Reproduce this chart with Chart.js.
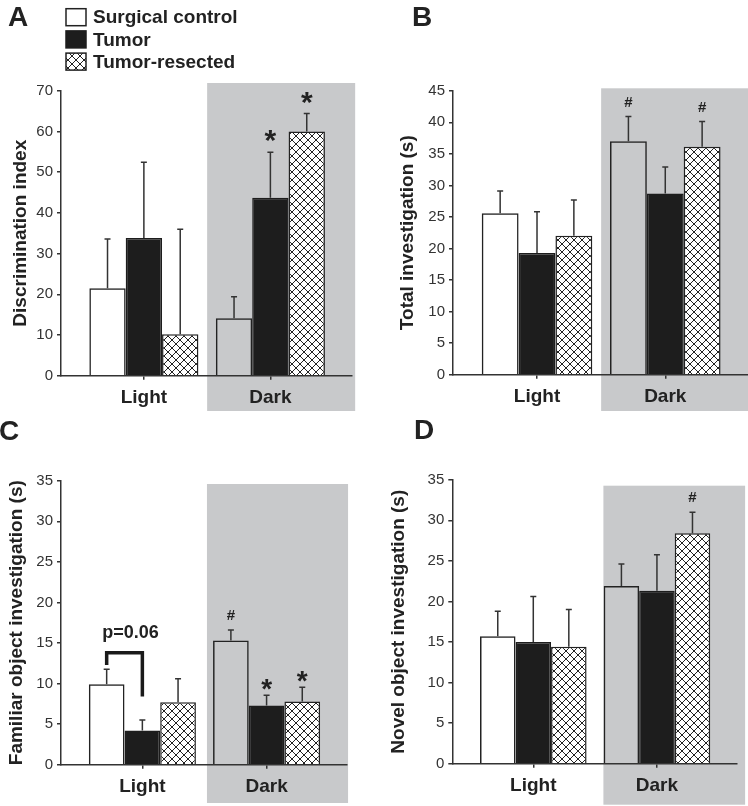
<!DOCTYPE html>
<html>
<head>
<meta charset="utf-8">
<script src="https://cdn.jsdelivr.net/npm/chart.js@4.4.0/dist/chart.umd.min.js"></script>
<style>
  body { margin: 0; background: #fff; width: 748px; height: 806px; position: relative; overflow: hidden; }
  canvas { position: absolute; }
</style>
</head>
<body>
<canvas id="chartA" width="374" height="415" style="left:0;top:0"></canvas>
<canvas id="chartB" width="374" height="415" style="left:374px;top:0"></canvas>
<canvas id="chartC" width="374" height="403" style="left:0;top:403px"></canvas>
<canvas id="chartD" width="374" height="403" style="left:374px;top:403px"></canvas>
<script>
// Categories and groups
const categories = ['Light', 'Dark'];
const groups = ['Surgical control', 'Tumor', 'Tumor-resected'];

// A - discrimination index (mean, error)
const discControl = [21.5, 14.1];
const discControlErr = [12.1, 5.3];
const discTumor = [33.8, 43.7];
const discTumorErr = [18.6, 11.2];
const discResected = [10.2, 60.0];
const discResectedErr = [25.8, 4.4];
const discMarks = [['', ''], ['', '*'], ['', '*']];

// B - total investigation (s)
const totalControl = [25.6, 37.0];
const totalControlErr = [3.5, 3.9];
const totalTumor = [19.3, 28.7];
const totalTumorErr = [6.5, 4.2];
const totalResected = [22.0, 36.1];
const totalResectedErr = [5.7, 4.0];
const totalMarks = [['', '#'], ['', ''], ['', '#']];

// C - familiar object investigation (s)
const famControl = [9.9, 15.3];
const famControlErr = [1.85, 1.3];
const famTumor = [4.2, 7.3];
const famTumorErr = [1.3, 1.25];
const famResected = [7.7, 7.8];
const famResectedErr = [2.9, 1.75];
const famMarks = [['', '#'], ['', '*'], ['', '*']];

// D - novel object investigation (s)
const novControl = [15.7, 21.9];
const novControlErr = [3.1, 2.7];
const novTumor = [15.0, 21.3];
const novTumorErr = [5.6, 4.45];
const novResected = [14.4, 28.4];
const novResectedErr = [4.6, 2.6];
const novMarks = [['', ''], ['', ''], ['', '#']];

Chart.defaults.font.family = "'Liberation Sans', Arial, sans-serif";
Chart.defaults.color = '#222';

const INK = '#222';
const BLACK = '#1d1d1d';
const GRAY = '#c8c9cb';

// crosshatch fill for tumor-resected bars
function makeHatch() {
    const tile = document.createElement('canvas');
    tile.width = 8;
    tile.height = 8;
    const g = tile.getContext('2d');
    g.fillStyle = '#fff';
    g.fillRect(0, 0, 8, 8);
    g.strokeStyle = '#222';
    g.lineWidth = 1;
    g.beginPath();
    g.moveTo(-1, -1); g.lineTo(9, 9);
    g.moveTo(9, -1); g.lineTo(-1, 9);
    g.stroke();
    return document.createElement('canvas').getContext('2d').createPattern(tile, 'repeat');
}
const hatch = makeHatch();

const seriesStyles = [
    { backgroundColor: 'rgba(255,255,255,0)', borderColor: INK },
    { backgroundColor: BLACK, borderColor: BLACK },
    { backgroundColor: hatch, borderColor: INK }
];

// Draws the gray "Dark" block, error bars, significance marks, panel letter, legend
const panelDecor = {
    id: 'panelDecor',
    beforeDraw(chart, args, o) {
        const ctx = chart.ctx;
        const x = chart.scales.x;
        const left = x.getPixelForValue(o.grayFrom);
        const right = Math.min(x.getPixelForValue(o.grayTo), chart.width);
        ctx.save();
        ctx.fillStyle = GRAY;
        ctx.fillRect(left, o.grayTop, right - left, o.grayBottom - o.grayTop);
        ctx.restore();
    },
    afterDatasetsDraw(chart, args, o) {
        const ctx = chart.ctx;
        const y = chart.scales.y;
        ctx.save();
        chart.data.datasets.forEach((ds, di) => {
            const meta = chart.getDatasetMeta(di);
            meta.data.forEach((bar, i) => {
                const top = y.getPixelForValue(ds.data[i].y + ds.errors[i]);
                ctx.strokeStyle = '#333';
                ctx.lineWidth = 1.5;
                ctx.beginPath();
                ctx.moveTo(bar.x, bar.y);
                ctx.lineTo(bar.x, top);
                ctx.moveTo(bar.x - 3, top);
                ctx.lineTo(bar.x + 3, top);
                ctx.stroke();

                const mark = ds.marks[i];
                if (mark === '*') {
                    ctx.fillStyle = INK;
                    ctx.font = 'bold ' + o.starSize + "px 'Liberation Sans', Arial";
                    ctx.textAlign = 'center';
                    ctx.textBaseline = 'alphabetic';
                    ctx.fillText('*', bar.x, top - o.starOffset);
                } else if (mark === '#') {
                    ctx.fillStyle = INK;
                    ctx.font = "bold 15px 'Liberation Sans', Arial";
                    ctx.textAlign = 'center';
                    ctx.textBaseline = 'middle';
                    ctx.fillText('#', bar.x, top - 14);
                }
            });
        });

        if (o.bracket) {
            const b = o.bracket;
            const x1 = chart.getDatasetMeta(b.from).data[b.index].x;
            const x2 = chart.getDatasetMeta(b.to).data[b.index].x;
            const yt = y.getPixelForValue(b.top);
            ctx.strokeStyle = '#1a1a1a';
            ctx.lineWidth = 3.5;
            ctx.lineJoin = 'miter';
            ctx.beginPath();
            ctx.moveTo(x1, y.getPixelForValue(b.leftEnd));
            ctx.lineTo(x1, yt);
            ctx.lineTo(x2, yt);
            ctx.lineTo(x2, y.getPixelForValue(b.rightEnd));
            ctx.stroke();
            ctx.fillStyle = INK;
            ctx.font = "bold 18px 'Liberation Sans', Arial";
            ctx.textAlign = 'center';
            ctx.textBaseline = 'middle';
            ctx.fillText(b.text, (x1 + x2) / 2 + 6, yt - 20);
        }
        ctx.restore();
    },
    afterDraw(chart, args, o) {
        const ctx = chart.ctx;
        ctx.save();
        ctx.fillStyle = INK;
        ctx.font = "bold 28px 'Liberation Sans', Arial";
        ctx.textAlign = 'left';
        ctx.textBaseline = 'alphabetic';
        ctx.fillText(o.letter, o.letterX, o.letterY);

        if (o.legend) {
            ctx.font = "bold 19px 'Liberation Sans', Arial";
            ctx.textBaseline = 'middle';
            groups.forEach((name, i) => {
                const cy = 17.2 + i * 22.2;
                const st = seriesStyles[i];
                ctx.fillStyle = i === 0 ? '#fff' : st.backgroundColor;
                ctx.fillRect(66, cy - 8.5, 20, 17);
                ctx.strokeStyle = st.borderColor;
                ctx.lineWidth = 1.5;
                ctx.strokeRect(66, cy - 8.5, 20, 17);
                ctx.fillStyle = INK;
                ctx.fillText(name, 93, cy + 1);
            });
        }
        ctx.restore();
    }
};

function makePanel(p) {
    const datasets = p.series.map((s, i) => ({
        label: groups[i],
        data: categories.map((c, k) => ({ x: k + 1, y: s.values[k] })),
        errors: s.errors,
        marks: s.marks,
        backgroundColor: seriesStyles[i].backgroundColor,
        borderColor: seriesStyles[i].borderColor,
        borderWidth: 1.5,
        categoryPercentage: 0.862,
        barPercentage: 1.0
    }));

    const canvas = document.getElementById(p.id);
    return new Chart(canvas, {
        type: 'bar',
        data: { datasets: datasets },
        plugins: [panelDecor],
        options: {
            responsive: false,
            animation: false,
            devicePixelRatio: 1,
            layout: {
                padding: { left: 0, top: p.area.t, right: canvas.width - p.area.r, bottom: 0 }
            },
            plugins: {
                legend: { display: false },
                tooltip: { enabled: false },
                panelDecor: p.decor
            },
            scales: {
                x: {
                    type: 'linear',
                    min: 0.345,
                    max: 2.645,
                    offset: false,
                    grid: { offset: false, drawOnChartArea: false, tickLength: 4, color: '#333', lineWidth: 1.5 },
                    border: { color: '#333', width: 1.5 },
                    afterBuildTicks: s => { s.ticks = categories.map((c, k) => ({ value: k + 1 })); },
                    ticks: {
                        callback: v => categories[v - 1],
                        font: { size: 19, weight: 'bold' },
                        color: INK,
                        padding: 7,
                        maxRotation: 0,
                        autoSkip: false
                    },
                    afterFit: s => { s.height = canvas.height - p.area.b; }
                },
                y: {
                    min: 0,
                    max: p.yMax,
                    ticks: { stepSize: p.yStep, font: { size: 15 }, color: '#333', padding: 4 },
                    grid: { drawOnChartArea: false, tickLength: 4, color: '#333', lineWidth: 1.5 },
                    border: { color: '#333', width: 1.5 },
                    title: {
                        display: true,
                        text: p.yTitle,
                        font: { size: 19, weight: 'bold' },
                        color: INK,
                        padding: { top: p.titlePad, bottom: 0 }
                    },
                    afterFit: s => { s.width = p.area.l; }
                }
            }
        }
    });
}

makePanel({
    id: 'chartA',
    area: { l: 61, t: 90.7, r: 352, b: 375.7 },
    yMax: 70, yStep: 10,
    yTitle: 'Discrimination index',
    titlePad: 9.3,
    series: [
        { values: discControl, errors: discControlErr, marks: discMarks[0] },
        { values: discTumor, errors: discTumorErr, marks: discMarks[1] },
        { values: discResected, errors: discResectedErr, marks: discMarks[2] }
    ],
    decor: {
        grayFrom: 1.5, grayTo: 2.67, grayTop: 83, grayBottom: 411,
        letter: 'A', letterX: 8, letterY: 26,
        starSize: 30, starOffset: 2,
        legend: true
    }
});

makePanel({
    id: 'chartB',
    area: { l: 79, t: 90.7, r: 374, b: 374.7 },
    yMax: 45, yStep: 5,
    yTitle: 'Total investigation (s)',
    titlePad: 21.9,
    series: [
        { values: totalControl, errors: totalControlErr, marks: totalMarks[0] },
        { values: totalTumor, errors: totalTumorErr, marks: totalMarks[1] },
        { values: totalResected, errors: totalResectedErr, marks: totalMarks[2] }
    ],
    decor: {
        grayFrom: 1.5, grayTo: 3, grayTop: 88.3, grayBottom: 411,
        letter: 'B', letterX: 38, letterY: 26,
        starSize: 30, starOffset: 2,
        legend: false
    }
});

makePanel({
    id: 'chartC',
    area: { l: 61, t: 77.7, r: 346.7, b: 361.7 },
    yMax: 35, yStep: 5,
    yTitle: 'Familiar object investigation (s)',
    titlePad: 5.3,
    series: [
        { values: famControl, errors: famControlErr, marks: famMarks[0] },
        { values: famTumor, errors: famTumorErr, marks: famMarks[1] },
        { values: famResected, errors: famResectedErr, marks: famMarks[2] }
    ],
    decor: {
        grayFrom: 1.52, grayTo: 2.656, grayTop: 81, grayBottom: 400,
        letter: 'C', letterX: -1, letterY: 37,
        starSize: 28, starOffset: -3,
        legend: false,
        bracket: { from: 0, to: 1, index: 0, top: 13.8, leftEnd: 12.3, rightEnd: 8.4, text: 'p=0.06' }
    }
});

makePanel({
    id: 'chartD',
    area: { l: 78.3, t: 76.7, r: 362.7, b: 360.7 },
    yMax: 35, yStep: 5,
    yTitle: 'Novel object investigation (s)',
    titlePad: 13.6,
    series: [
        { values: novControl, errors: novControlErr, marks: novMarks[0] },
        { values: novTumor, errors: novTumorErr, marks: novMarks[1] },
        { values: novResected, errors: novResectedErr, marks: novMarks[2] }
    ],
    decor: {
        grayFrom: 1.567, grayTo: 2.713, grayTop: 82.7, grayBottom: 401.7,
        letter: 'D', letterX: 40, letterY: 36,
        starSize: 28, starOffset: 2,
        legend: false
    }
});
</script>
</body>
</html>
